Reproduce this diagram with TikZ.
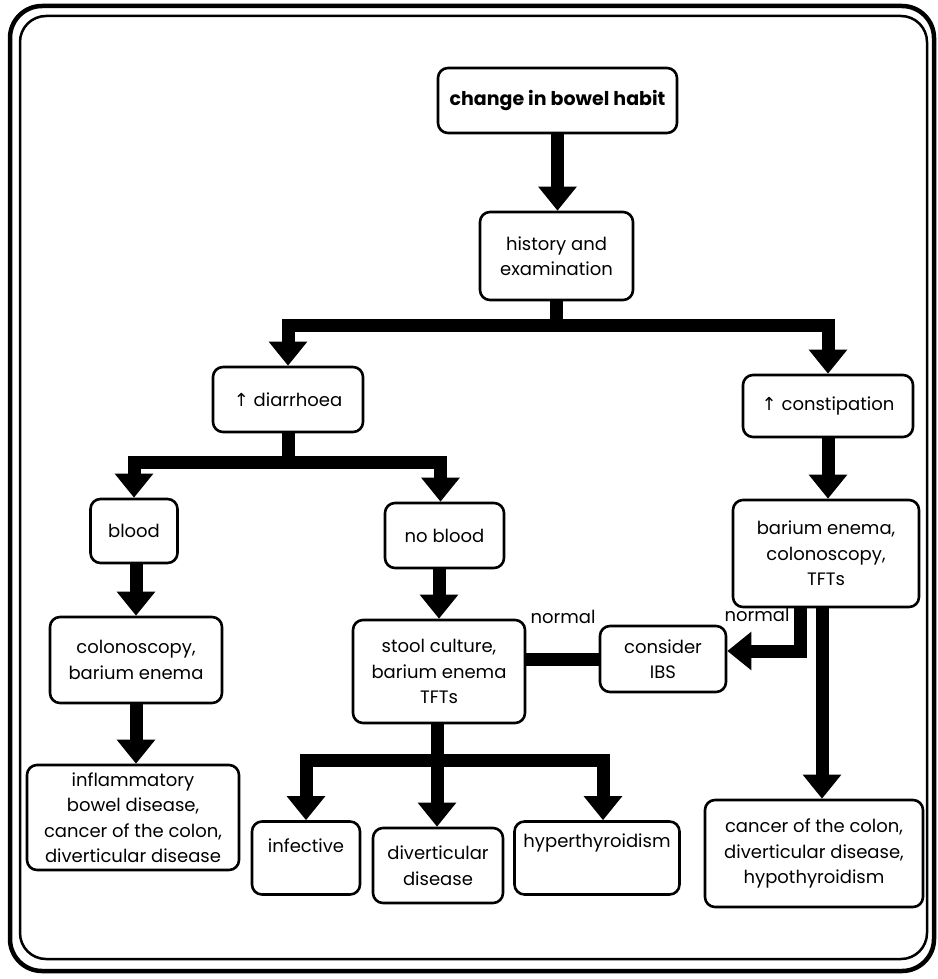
\documentclass[tikz,border=0pt]{standalone}
\usepackage{fontspec}
\setmainfont{Poppins}
\newfontfamily\arrowfont{DejaVu Sans}
\usetikzlibrary{arrows.meta}
\begin{document}
\begin{tikzpicture}[x=1pt,y=-1pt,
  box/.style={draw,line width=2.6pt,rounded corners=10pt,inner sep=0pt,
    align=center,font=\fontsize{18}{25.5}\selectfont},
  arr/.style={line width=13pt,-{Triangle[width=37pt,length=24pt]}},
  bar/.style={line width=13pt},
  lbl/.style={font=\fontsize{18}{20}\selectfont,inner sep=0pt}]
\useasboundingbox (0,0) rectangle (937,979);
% double frame
\draw[line width=4.5pt,rounded corners=32pt] (10,6) rectangle (934,971);
\draw[line width=2.5pt,rounded corners=26pt] (20,16) rectangle (927,959);

% boxes
\node[box,minimum width=239pt,minimum height=65pt,font=\fontsize{19}{25}\selectfont\bfseries] (top) at (557.5,100.5) {change in bowel habit};
\node[box,minimum width=153pt,minimum height=88pt] (hist) at (556.5,256) {history and\\examination};
\node[box,minimum width=150pt,minimum height=65pt] (diar) at (288,399.5) {{\arrowfont ↑} diarrhoea};
\node[box,minimum width=170pt,minimum height=62pt] (cons) at (828,406) {{\arrowfont ↑} constipation};
\node[box,minimum width=87pt,minimum height=64pt] (blood) at (134,531) {blood};
\node[box,minimum width=119pt,minimum height=65pt] (noblood) at (444.5,535.5) {no blood};
\node[box,minimum width=172pt,minimum height=86pt] (colo) at (136,660) {colonoscopy,\\barium enema};
\node[box,minimum width=212pt,minimum height=105pt] (infl) at (133,817.5) {inflammatory\\bowel disease,\\cancer of the colon,\\diverticular disease};
\node[box,minimum width=172pt,minimum height=103pt] (stool) at (439,671.5) {stool culture,\\barium enema\\TFTs};
\node[box,minimum width=126pt,minimum height=66pt] (ibs) at (663,659) {consider\\IBS};
\node[box,minimum width=186pt,minimum height=107pt] (barium) at (826,553.5) {barium enema,\\colonoscopy,\\TFTs};
\node[box,minimum width=108pt,text height=31pt,text depth=42pt] (inf) at (306,858) {infective};
\node[box,minimum width=130pt,minimum height=75pt] (div) at (438,865.5) {diverticular\\disease};
\node[box,minimum width=165pt,text height=26pt,text depth=47pt] (hyp) at (597,858) {hyperthyroidism};
\node[box,minimum width=218pt,minimum height=107pt] (canc) at (814,853.5) {cancer of the colon,\\diverticular disease,\\hypothyroidism};

% branching points
\coordinate (j1) at (557,325);
\coordinate (j2) at (288,462);
\coordinate (j3) at (437,760);

% connectors
\draw[arr] (top.south) -- (top.south |- hist.north);
\draw[bar] (hist.south) -- (hist.south |- j1);
\draw[arr] (j1) -| (diar.north);
\draw[arr] (j1) -| (cons.north);
\draw[arr] (cons.south) -- (cons.south |- barium.north);
\draw[bar] (diar.south) -- (j2);
\draw[arr] (j2) -| (blood.north);
\draw[arr] (j2) -| ([xshift=-4pt]noblood.north);
\draw[arr] (colo.north |- blood.south) -- (colo.north);
\draw[arr] (colo.south) -- (colo.south |- infl.north);
\draw[arr] (stool.north |- noblood.south) -- (stool.north);
\draw[bar] (ibs.west -| stool.east) -- (ibs.west);
\node[lbl] (n1) at (563,617) {normal};
\draw[arr] ([xshift=-26pt]barium.south) |- ([yshift=8pt]ibs.east);
\node[lbl] (n2) at (757,615) {normal};
\draw[arr] ([xshift=-4pt]barium.south) -- ([xshift=-4pt]barium.south |- canc.north);
\draw[bar] (stool.south -| j3) -- (j3);
\draw[arr] (j3) -| (inf.north);
\draw[arr] (j3) -- (j3 |- div.north);
\draw[arr] (j3) -| ([xshift=6pt]hyp.north);
\end{tikzpicture}
\end{document}
